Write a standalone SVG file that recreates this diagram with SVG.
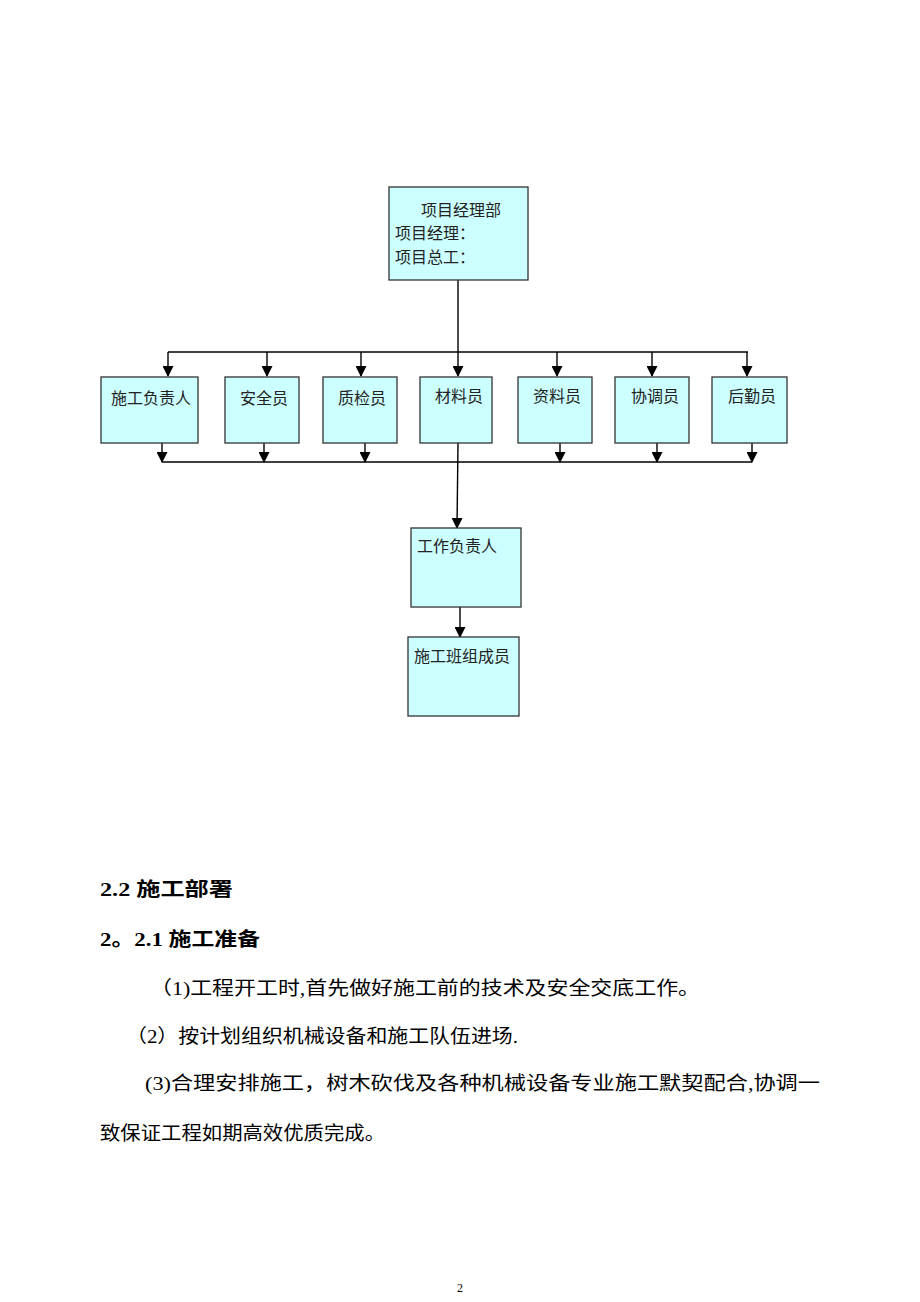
<svg xmlns="http://www.w3.org/2000/svg" width="920" height="1302" viewBox="0 0 920 1302">
<style>
.box{fill:#CCFFFF;stroke:#333;stroke-width:1.3}
.bt{font-family:"Liberation Serif","Noto Sans CJK SC",serif;font-size:16px;fill:#222}
.ln{stroke:#000;stroke-width:1.4;fill:none}
.p{font-family:"Liberation Serif","Noto Sans CJK SC",serif;font-size:19px;fill:#000}
.h{font-family:"Liberation Serif","Noto Sans CJK SC",serif;font-size:19px;font-weight:bold;fill:#000}
</style>
<defs>
<marker id="ar" markerWidth="11" markerHeight="11" refX="10" refY="5.5" orient="auto" markerUnits="userSpaceOnUse">
<path d="M0,0 L11,5.5 L0,11 Z" fill="#000"/>
</marker>
</defs>
<rect width="920" height="1302" fill="#fff"/>
<g id="connectors">
<line class="ln" x1="458" y1="280" x2="458" y2="376" marker-end="url(#ar)"/>
<line class="ln" x1="168" y1="352" x2="748" y2="352"/>
<line class="ln" x1="168" y1="352" x2="168" y2="376" marker-end="url(#ar)"/>
<line class="ln" x1="267" y1="352" x2="267" y2="376" marker-end="url(#ar)"/>
<line class="ln" x1="361" y1="352" x2="361" y2="376" marker-end="url(#ar)"/>
<line class="ln" x1="557" y1="352" x2="557" y2="376" marker-end="url(#ar)"/>
<line class="ln" x1="652" y1="352" x2="652" y2="376" marker-end="url(#ar)"/>
<line class="ln" x1="747" y1="352" x2="747" y2="376" marker-end="url(#ar)"/>
<line class="ln" x1="162" y1="462" x2="752" y2="462"/>
<line class="ln" x1="162" y1="443" x2="162" y2="462" marker-end="url(#ar)"/>
<line class="ln" x1="264" y1="443" x2="264" y2="462" marker-end="url(#ar)"/>
<line class="ln" x1="365" y1="443" x2="365" y2="462" marker-end="url(#ar)"/>
<line class="ln" x1="560" y1="443" x2="560" y2="462" marker-end="url(#ar)"/>
<line class="ln" x1="657" y1="443" x2="657" y2="462" marker-end="url(#ar)"/>
<line class="ln" x1="752" y1="443" x2="752" y2="462" marker-end="url(#ar)"/>
<line class="ln" x1="458" y1="443" x2="457" y2="528" marker-end="url(#ar)"/>
<line class="ln" x1="460" y1="607" x2="460" y2="637" marker-end="url(#ar)"/>
</g>
<g id="n-top">
<rect class="box" x="389" y="187" width="139" height="93"/>
<text class="bt" x="421" y="216">项目经理部</text>
<text class="bt" x="395" y="239">项目经理：</text>
<text class="bt" x="395" y="263">项目总工：</text>
</g>
<g id="n1"><rect class="box" x="101" y="377" width="97" height="66"/><text class="bt" x="111" y="404">施工负责人</text></g>
<g id="n2"><rect class="box" x="225" y="377" width="74" height="66"/><text class="bt" x="240" y="404">安全员</text></g>
<g id="n3"><rect class="box" x="323" y="377" width="74" height="66"/><text class="bt" x="338" y="404">质检员</text></g>
<g id="n4"><rect class="box" x="420" y="377" width="72" height="66"/><text class="bt" x="435" y="402">材料员</text></g>
<g id="n5"><rect class="box" x="518" y="377" width="74" height="66"/><text class="bt" x="533" y="402">资料员</text></g>
<g id="n6"><rect class="box" x="615" y="377" width="74" height="66"/><text class="bt" x="631" y="402">协调员</text></g>
<g id="n7"><rect class="box" x="712" y="377" width="75" height="66"/><text class="bt" x="728" y="402">后勤员</text></g>
<g id="n8"><rect class="box" x="411" y="528" width="110" height="79"/><text class="bt" x="417" y="552">工作负责人</text></g>
<g id="n9"><rect class="box" x="408" y="637" width="111" height="79"/><text class="bt" x="414" y="662">施工班组成员</text></g>
<g id="body">
<text class="h" x="100" y="896" textLength="133" lengthAdjust="spacingAndGlyphs">2.2 施工部署</text>
<text class="h" x="100" y="946" textLength="160" lengthAdjust="spacingAndGlyphs">2。2.1 施工准备</text>
<text class="p" x="150" y="995" textLength="550" lengthAdjust="spacingAndGlyphs">（1)工程开工时,首先做好施工前的技术及安全交底工作。</text>
<text class="p" x="126" y="1043" textLength="392" lengthAdjust="spacingAndGlyphs">（2）按计划组织机械设备和施工队伍进场.</text>
<text class="p" x="145" y="1090" textLength="675" lengthAdjust="spacingAndGlyphs">(3)合理安排施工，树木砍伐及各种机械设备专业施工默契配合,协调一</text>
<text class="p" x="100" y="1140" textLength="285" lengthAdjust="spacingAndGlyphs">致保证工程如期高效优质完成。</text>
<text x="460" y="1292" text-anchor="middle" font-family="Liberation Serif,serif" font-size="12">2</text>
</g>
</svg>
